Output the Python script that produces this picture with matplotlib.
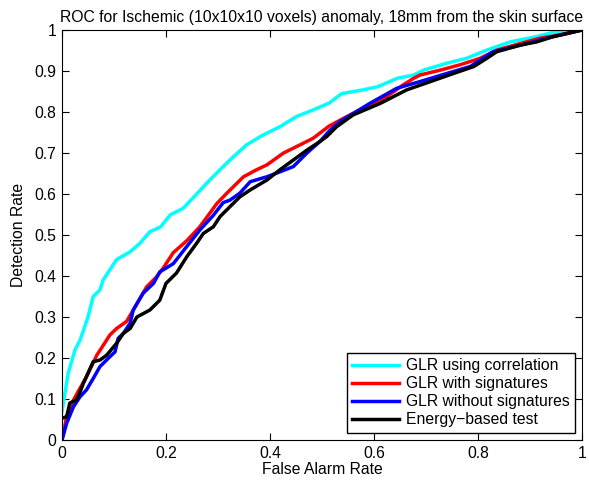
import matplotlib
matplotlib.use('Agg')
import matplotlib.pyplot as plt
from matplotlib.ticker import FormatStrFormatter

plt.rcParams['font.family'] = ['Liberation Sans', 'DejaVu Sans']

# GLR using correlation
corr_x = [0, 0.012, 0.025, 0.035, 0.05, 0.06, 0.073, 0.079, 0.092, 0.105, 0.131, 0.15,
          0.169, 0.19, 0.208, 0.233, 0.259, 0.278, 0.31, 0.329, 0.355, 0.387, 0.419,
          0.451, 0.483, 0.514, 0.538, 0.579, 0.608, 0.644, 0.676, 0.695, 0.74, 0.778,
          0.817, 0.862, 0.913, 0.944, 1.0]
corr_y = [0.07, 0.163, 0.22, 0.244, 0.30, 0.35, 0.366, 0.39, 0.415, 0.44, 0.459, 0.48,
          0.508, 0.52, 0.549, 0.565, 0.60, 0.626, 0.667, 0.69, 0.72, 0.744, 0.764,
          0.789, 0.805, 0.822, 0.845, 0.854, 0.862, 0.882, 0.89, 0.902, 0.919, 0.931,
          0.951, 0.971, 0.984, 0.994, 1.0]

# GLR with signatures
sig_x = [0, 0.009, 0.019, 0.031, 0.047, 0.067, 0.086, 0.092, 0.105, 0.124, 0.137, 0.163,
         0.182, 0.195, 0.214, 0.24, 0.265, 0.298, 0.317, 0.349, 0.374, 0.394, 0.426,
         0.458, 0.483, 0.514, 0.554, 0.579, 0.624, 0.656, 0.676, 0.688, 0.727, 0.765,
         0.804, 0.836, 0.881, 0.919, 0.958, 1.0]
sig_y = [0, 0.057, 0.09, 0.118, 0.154, 0.207, 0.244, 0.256, 0.272, 0.289, 0.317, 0.374,
         0.398, 0.42, 0.457, 0.486, 0.52, 0.577, 0.602, 0.642, 0.659, 0.671, 0.70,
         0.72, 0.736, 0.766, 0.793, 0.809, 0.837, 0.866, 0.882, 0.89, 0.902, 0.915,
         0.931, 0.951, 0.967, 0.98, 0.988, 1.0]

# GLR without signatures
nosig_x = [0, 0.009, 0.022, 0.035, 0.047, 0.06, 0.073, 0.092, 0.102, 0.108, 0.118, 0.131,
           0.137, 0.156, 0.176, 0.188, 0.214, 0.24, 0.265, 0.291, 0.31, 0.323, 0.342,
           0.362, 0.394, 0.419, 0.445, 0.471, 0.496, 0.515, 0.535, 0.592, 0.644, 0.688,
           0.74, 0.785, 0.829, 0.881, 0.932, 1.0]
nosig_y = [0, 0.041, 0.081, 0.106, 0.122, 0.15, 0.179, 0.203, 0.215, 0.248, 0.26, 0.285,
           0.317, 0.358, 0.382, 0.41, 0.43, 0.472, 0.512, 0.548, 0.579, 0.585, 0.602,
           0.63, 0.642, 0.654, 0.667, 0.70, 0.728, 0.755, 0.777, 0.821, 0.858, 0.874,
           0.894, 0.911, 0.947, 0.963, 0.98, 1.0]

# Energy-based test
energy_x = [0, 0.009, 0.015, 0.028, 0.035, 0.041, 0.05, 0.06, 0.073, 0.086, 0.105, 0.118,
            0.131, 0.144, 0.169, 0.188, 0.2, 0.22, 0.24, 0.259, 0.272, 0.291, 0.304,
            0.323, 0.342, 0.362, 0.394, 0.419, 0.445, 0.471, 0.496, 0.509, 0.528, 0.56,
            0.612, 0.663, 0.708, 0.753, 0.792, 0.817, 0.836, 0.881, 0.913, 0.945, 1.0]
energy_y = [0.053, 0.057, 0.09, 0.098, 0.118, 0.138, 0.163, 0.191, 0.195, 0.207, 0.236,
            0.26, 0.272, 0.30, 0.317, 0.341, 0.382, 0.407, 0.447, 0.48, 0.504, 0.52,
            0.545, 0.569, 0.593, 0.61, 0.634, 0.659, 0.683, 0.707, 0.728, 0.74, 0.764,
            0.793, 0.821, 0.854, 0.874, 0.894, 0.911, 0.931, 0.947, 0.963, 0.971,
            0.984, 1.0]

labels = ['GLR using correlation', 'GLR with signatures',
          'GLR without signatures', 'Energy\u2212based test']

fs = 11.3

fig = plt.figure(figsize=(5.89, 4.84), dpi=100)
ax = fig.add_axes([62 / 589, 44 / 484, 520 / 589, 410 / 484])

ax.plot(corr_x, corr_y, color='cyan', lw=2.5, label=labels[0])
ax.plot(sig_x, sig_y, color='red', lw=2.5, label=labels[1])
ax.plot(nosig_x, nosig_y, color='blue', lw=2.5, label=labels[2])
ax.plot(energy_x, energy_y, color='black', lw=2.5, label=labels[3])

ax.set_xlim(0, 1)
ax.set_ylim(0, 1)
ax.set_xticks([0, 0.2, 0.4, 0.6, 0.8, 1])
ax.set_yticks([i / 10 for i in range(11)])
ax.xaxis.set_major_formatter(FormatStrFormatter('%g'))
ax.yaxis.set_major_formatter(FormatStrFormatter('%g'))
ax.tick_params(direction='in', top=True, right=True, labelsize=fs, length=5, pad=4)
ax.set_xlabel('False Alarm Rate', fontsize=fs, labelpad=1)
ax.set_ylabel('Detection Rate', fontsize=fs, labelpad=6)
ax.set_title('ROC for Ischemic (10x10x10 voxels) anomaly, 18mm from the skin surface',
             fontsize=fs, pad=6)

leg = ax.legend(loc='lower right', fontsize=fs, fancybox=False, framealpha=1,
                edgecolor='black', borderaxespad=0.45, handlelength=3.0,
                labelspacing=0.2, borderpad=0.35, handletextpad=0.4)
leg.get_frame().set_linewidth(1.0)

fig.savefig('out.png', dpi=100)
plt.close()
